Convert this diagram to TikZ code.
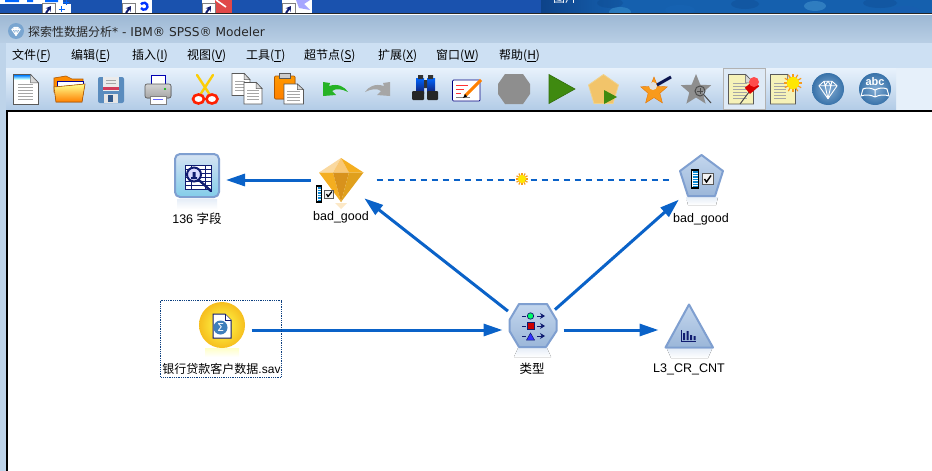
\documentclass[tikz,border=0pt]{standalone}
\usepackage{fontspec}
\setmainfont{Liberation Sans}
\newfontfamily\cjk{Noto Sans CJK SC}
\newfontfamily\wide{DejaVu Sans}
\usetikzlibrary{arrows.meta,shapes.geometric}
\definecolor{flow}{HTML}{0A62C8}
\definecolor{edgeblue}{HTML}{7F9FD0}
\definecolor{fillblue}{HTML}{A3C0E4}
\definecolor{navy}{HTML}{101C70}
\definecolor{golddark}{HTML}{D8921C}
\definecolor{goldmid}{HTML}{F4AE20}
\definecolor{goldlight}{HTML}{FAD9A0}
\definecolor{goldcrown}{HTML}{F9C875}
\definecolor{desk}{HTML}{1A52AE}
\definecolor{deskright}{HTML}{1560AE}
\definecolor{deskdark}{HTML}{0B3F80}
\definecolor{grayicon}{HTML}{8E8E8E}
\definecolor{playgreen}{HTML}{3F8A10}
\definecolor{notey}{HTML}{F6F2B8}
\definecolor{orangeicon}{HTML}{F89A1C}
\definecolor{orbblue}{HTML}{3F7FBC}
\definecolor{titletop}{HTML}{9DB8D4}
\definecolor{titlebot}{HTML}{B9CFE5}
\definecolor{frameblue}{HTML}{BED4EA}
\definecolor{menublue}{HTML}{CDE0F3}
\definecolor{tbtop}{HTML}{E8F2FC}
\definecolor{tbbot}{HTML}{B2CBE6}
\definecolor{tbrest}{HTML}{E6F0FA}
\definecolor{floppy}{HTML}{5A8CBE}
\definecolor{floppyred}{HTML}{D23C5A}
\definecolor{floppydark}{HTML}{325A8C}
\definecolor{pentgold}{HTML}{F2C46A}
\definecolor{pentedge}{HTML}{F0D28C}
\definecolor{pinbg}{HTML}{DEEAF6}
\definecolor{orbedge}{HTML}{F6BE1E}
\definecolor{redtile}{HTML}{E04848}
\tikzset{
  hub/.style={inner sep=0pt,minimum size=1pt,outer sep=0pt},
  nodelabel/.style={inner sep=0pt,font=\fontsize{12.5}{14}\selectfont,text=black},
  menulabel/.style={inner sep=0pt,anchor=west,font=\fontsize{12}{14}\selectfont\cjk,text=black},
  flowline/.style={draw=flow,line width=3pt,-{Triangle[length=19pt,width=12pt]}},
  flowdash/.style={draw=flow,line width=2pt,dash pattern=on 6pt off 5pt},
  iconshape/.style={draw=edgeblue,line width=2pt,line join=round,top color=fillblue!65!white,bottom color=fillblue!95!black},
  reflect/.style={top color=fillblue!28!white,bottom color=white,draw=none},
}
\newcommand{\docsheet}[5]{%
  \fill[#5,draw=gray!70!black,line width=.8pt] (#1,#2) -- ++(#3*0.68,0) -- ++(#3*0.32,#4*0.28) -- ++(0,#4*0.72) -- ++(-#3,0) -- cycle;
  \fill[gray!30,draw=gray!70!black,line width=.5pt] (#1,#2) ++(#3*0.68,0) -- ++(0,#4*0.28) -- ++(#3*0.32,0) -- cycle;
}
\newcommand{\gemglyph}[3]{%
  \begin{scope}[shift={(#1,#2)},x=#3pt,y=-#3pt,draw=white,line width=.9pt,line join=round]
    \draw (-.7,-.25) -- (-.3,-.6) -- (.3,-.6) -- (.7,-.25) -- (0,.75) -- cycle;
    \draw (-.7,-.25) -- (.7,-.25) (-.3,-.6) -- (-.22,-.25) -- (0,.75) -- (.22,-.25) -- (.3,-.6) (-.22,-.25) -- (0,-.6) -- (.22,-.25);
  \end{scope}
}
\newcommand{\starshape}[3]{%
  (#1,#2-#3) -- (#1+.27*#3,#2-.33*#3) -- (#1+.95*#3,#2-.3*#3) -- (#1+.42*#3,#2+.16*#3) -- (#1+.6*#3,#2+.85*#3) -- (#1,#2+.47*#3) -- (#1-.6*#3,#2+.85*#3) -- (#1-.42*#3,#2+.16*#3) -- (#1-.95*#3,#2-.3*#3) -- (#1-.27*#3,#2-.33*#3) -- cycle
}
\newcommand{\tlines}[4]{%
  \foreach \i in {1,...,#4} \draw[gray!70,line width=.7pt] (#1,#2+\i*3) -- ++(#3,0);
}
\newcommand{\sunburst}[3]{%
  \foreach \a in {0,30,...,330} \draw[orangeicon,line width=1.2pt] (#1,#2) ++(\a:#3*.6) -- ++(\a:#3*.45);
  \fill[yellow!90!orange] (#1,#2) circle (#3*.68);
}
\begin{document}
\begin{tikzpicture}[x=1pt,y=-1pt]
\useasboundingbox (0,0) rectangle (932,471);
% ---------- desktop strip
\fill[desk] (0,0) rectangle (541,14);
\fill[left color=deskdark!80!desk,right color=deskright] (541,0) rectangle (620,14);
\fill[deskright] (620,0) rectangle (932,14);
\begin{scope}
  \clip (541,0) rectangle (932,13);
  \foreach \x/\y/\w/\c in {620/12/22/cyan!60!white,680/10/30/cyan!45!blue,745/4/28/deskdark,815/6/22/cyan!50!white,880/3/34/deskdark,610/3/26/deskdark,905/11/30/cyan!35!blue}
    \fill[\c,opacity=.25] (\x,\y) ellipse ({\w/2} and 5);
  \node[hub,anchor=west,text=white,font=\fontsize{12}{14}\selectfont\cjk] (clipped) at (553,-2) {图片};
\end{scope}
\fill[white] (0,0) rectangle (63,4);
\fill[white] (42,4) rectangle (71,13);
\fill[white] (122,0) rectangle (152,13);
\fill[white] (202,0) rectangle (232,13);
\fill[white] (282,0) rectangle (312,13);
\fill[blue!60!cyan] (5,0) rectangle (19,2) (27,0) rectangle (33,2) (45,0) rectangle (58,2);
\draw[blue!60!cyan,line width=1pt] (66,0) -- (66,5) (63,2) -- (69,2) (61.5,6) -- (61.5,12) (58.5,9) -- (64.5,9);
\draw[blue!80!cyan,line width=2.4pt] (141,8) arc (150:-150:3.5);
\fill[redtile] (215,0) rectangle (232,13);
\draw[white,line width=1.6pt] (216,0) -- (226,7);
\fill[blue!35!white] (296,0) -- (310,0) -- (304,4) -- (310,10) -- (299,8) -- cycle;
\foreach \x in {42,122,202,282} {
  \fill[white,draw=gray,line width=.8pt] (\x+.5,3.5) rectangle ++(13,10);
  \draw[navy,line width=2pt,-{Stealth[length=5pt,width=6pt]}] (\x+4,13) -- ++(5,-7);
}
% ---------- window
\fill[black!85] (0,13) rectangle (932,14);
\fill[white] (0,14) rectangle (932,15);
\fill[top color=titletop,bottom color=titlebot] (0,15) rectangle (932,43);
\fill[frameblue] (0,43) rectangle (6,471);
\fill[menublue] (6,43) rectangle (932,68);
\fill[tbrest] (6,68) rectangle (932,110);
\fill[top color=tbtop,bottom color=tbbot] (6,68) rectangle (896,110);
% canvas
\fill[white] (7,112) rectangle (932,471);
\draw[black,line width=2pt] (6.5,471) -- (6.5,111) -- (932,111);
% ---------- title bar
\fill[orbblue!70!white] (16,31) circle (8);
\gemglyph{16}{31}{6}
\node[inner sep=0pt,anchor=west,text=black!85,font=\fontsize{12}{14}\selectfont\cjk] (title) at (28,32) {探索性数据分析{\wide\fontsize{12.2}{14}\selectfont * - IBM® SPSS® Modeler}};
% ---------- menu
\node[menulabel] (m1) at (12,56) {文件(\underline{F})};
\node[menulabel] (m2) at (71,56) {编辑(\underline{E})};
\node[menulabel] (m3) at (132,56) {插入(\underline{I})};
\node[menulabel] (m4) at (187,56) {视图(\underline{V})};
\node[menulabel] (m5) at (246,56) {工具(\underline{T})};
\node[menulabel] (m6) at (304,56) {超节点(\underline{S})};
\node[menulabel] (m7) at (378,56) {扩展(\underline{X})};
\node[menulabel] (m8) at (436,56) {窗口(\underline{W})};
\node[menulabel] (m9) at (499,56) {帮助(\underline{H})};
% ---------- toolbar
% new
\docsheet{13.5}{74.5}{25}{30}{white}
\fill[top color=blue!50!cyan,bottom color=cyan!20] (14,75) rectangle (30,79);
\tlines{18}{81}{15}{6}
% open
\fill[orange!90!yellow,draw=orange!70!black,line width=.6pt] (54,78) -- (66,76) -- (72,79) -- (83,79) -- (83,92) -- (54,92) -- cycle;
\fill[white,draw=blue!60!black,line width=.6pt] (57,81) rectangle (83,87);
\fill[top color=yellow!45!white,bottom color=orange,draw=orange!70!black,line width=.6pt] (54,87) -- (85,84) -- (82,102) -- (56,102) -- cycle;
% save
\fill[floppy,rounded corners=2pt] (98,77) rectangle (124,103);
\fill[white!92!black] (103,77) rectangle (119,91);
\fill[floppyred] (103,87) rectangle (119,89.5);
\draw[gray!70,line width=.7pt] (106,80) -- (116,80) (106,83) -- (116,83);
\fill[white!90!black] (104,94) rectangle (118,103);
\fill[floppydark] (108,95) rectangle (113,102);
% print
\fill[white,draw=blue!70!black,line width=1pt] (151,75) rectangle (165,85);
\fill[top color=gray!35,bottom color=gray!70,draw=gray!70!black,line width=.6pt,rounded corners=2pt] (145,84) rectangle (171,98);
\fill[green!70!black] (165,89) circle (1.2);
\fill[white,draw=gray,line width=.6pt] (150,96) rectangle (166,104);
\draw[blue!60,line width=.7pt] (153,99) -- (163,99);
% scissors
\draw[yellow!65!orange,line width=2.4pt,line cap=round] (197,75) -- (210,95) (213,75) -- (200,95);
\draw[red!75!orange,line width=2.6pt,fill=white] (198.5,99) ellipse (5.5 and 4.5) (212,99) ellipse (5.5 and 4.5);
% copy
\docsheet{232}{73.5}{18}{22}{white}
\tlines{235}{78}{10}{4}
\docsheet{244}{82.5}{18}{21.5}{white}
\tlines{247}{87}{12}{4}
% paste
\fill[top color=orange!80!yellow,bottom color=orange,draw=orange!70!black,line width=.7pt,rounded corners=1pt] (274.5,76) rectangle (295,99);
\fill[gray!40,draw=gray!70!black,line width=.5pt] (279,73.5) rectangle (290,78);
\docsheet{284}{84}{19.5}{20}{white}
\tlines{287}{88}{13}{4}
% undo/redo
\fill[green!65!black!85!white] (323,82) -- (330,83) -- (329,86) .. controls (338,83) and (345,87) .. (348,92) .. controls (342,89) and (336,88) .. (332,91) -- (336,95) -- (323,96) -- cycle;
\fill[gray!70] (390,82) -- (383,83) -- (384,86) .. controls (375,83) and (368,87) .. (365,92) .. controls (371,89) and (377,88) .. (381,91) -- (377,95) -- (390,96) -- cycle;
% binoculars
\fill[top color=blue!60!cyan,bottom color=navy] (416,78) rectangle (424,93);
\fill[top color=blue!60!cyan,bottom color=navy] (427,78) rectangle (435,93);
\fill[black!80] (418,75) rectangle (423,79) (428,75) rectangle (433,79) (424,80) rectangle (427,88);
\fill[black!85,rounded corners=1pt] (412,91) rectangle (424,100) (427,91) rectangle (438,100);
% edit
\fill[white,draw=blue!50!black,line width=.7pt,rounded corners=1pt] (452.5,80) rectangle (480,101);
\draw[red!80,line width=.8pt] (456,85) -- (468,85) (456,89) -- (464,89) (456,93) -- (461,93);
\draw[gray,line width=.7pt] (456,97) -- (470,97);
\draw[orange,line width=3pt] (465,96) -- (481,80);
\fill[black] (463,98) -- (465,94) -- (467,96.5) -- cycle;
% stop hexagon
\fill[grayicon] (505,74) -- (523,74) -- (530,84) -- (530,94) -- (523,104) -- (505,104) -- (498,94) -- (498,84) -- cycle;
% play
\fill[playgreen,draw=playgreen!80!black,line width=.6pt] (549,74.5) -- (575,89) -- (549,103.5) -- cycle;
% pentagon play
\fill[pentgold,draw=pentedge,line width=.8pt] (603.5,74.5) -- (618.5,85) -- (613,103.5) -- (594,103.5) -- (588.5,85) -- cycle;
\fill[playgreen] (604,90) -- (617,97) -- (604,104) -- cycle;
% star brush
\fill[orangeicon,draw=orange!90!black,line width=.4pt] \starshape{654}{91}{14};
\fill[gray!25] (653,86) circle (4);
\draw[navy!70!black,line width=3pt] (657,85) -- (671,77);
% gray star
\fill[grayicon] \starshape{696}{90}{16};
\draw[gray!60!black,line width=1pt] (700,91) circle (5) (704,95) -- (711,103);
\draw[gray!60!black,line width=.7pt] (697,91) -- (703,91) (700,88) -- (700,94);
% pin note
\fill[pinbg,draw=gray!60,line width=.7pt] (723.5,68.5) rectangle (765,109.5);
\docsheet{728.5}{74.5}{25}{29.5}{notey}
\tlines{733}{80}{14}{6}
\draw[gray!60!black,line width=1pt] (740,104) -- (749,92);
\fill[red!85!black,rotate around={40:(752,87)}] (746,83) rectangle (758,91);
\fill[red!70!white] (754,82) circle (5);
% note sun
\docsheet{770.5}{74.5}{25}{29.5}{notey}
\tlines{774}{80}{12}{6}
\sunburst{793}{83}{9}
% gem orb
\shade[inner color=orbblue!65!white,outer color=orbblue!90!black] (828,89) circle (16);
\gemglyph{828}{89}{13}
% abc orb
\shade[inner color=orbblue!65!white,outer color=orbblue!90!black] (875,89) circle (16);
\node[inner sep=0pt,text=white,font=\fontsize{11}{12}\selectfont\bfseries] (abc) at (875,82) {abc};
\draw[white,line width=1pt,line join=round] (875,90) .. controls (870,87) and (865,88) .. (863,89) -- (861,96) .. controls (866,94) and (871,95) .. (875,97) .. controls (879,95) and (884,94) .. (889,96) -- (887,89) .. controls (885,88) and (880,87) .. (875,90) -- (875,97);
% ---------- stream nodes
\node[hub] (table) at (197,180) {};
\node[hub] (nugget) at (341,180) {};
\node[hub] (source) at (222,330) {};
\node[hub] (typenode) at (532,330) {};
\node[hub] (graph) at (688,330) {};
\node[hub] (model) at (701,180) {};
\node[hub] (star) at (522,179) {};
% connectors
\draw[flowline,shorten <=30pt,shorten >=28.5pt] (nugget) -- (table);
\draw[flowline,shorten <=29pt,shorten >=29pt] (source) -- (typenode);
\draw[flowline,shorten <=31pt,shorten >=29pt] (typenode) -- (graph);
\draw[flowline,shorten <=30pt,shorten >=29pt] (typenode) -- (nugget);
\draw[flowline,shorten <=30pt,shorten >=29pt] (typenode) -- (model);
\draw[flowdash,shorten <=35pt,shorten >=30pt] (nugget) -- (model);
% dash star
\sunburst{522}{179}{6}
% table icon
\fill[reflect] (177,199) rectangle (217,209);
\fill[iconshape,rounded corners=5pt,top color=fillblue!45!white,bottom color=fillblue!80!cyan] (175,154) rectangle (219,197);
\fill[white,draw=navy,line width=1pt] (185,165) rectangle (211,189);
\foreach \yy in {169,173,177,181,185} \draw[navy,line width=.8pt] (185,\yy) -- (211,\yy);
\foreach \xx in {191,205} \draw[navy,line width=.8pt] (\xx,165) -- (\xx,189);
\draw[navy,line width=2.4pt,line cap=round] (200,181) -- (211,191);
\fill[white!85!blue,draw=navy,line width=2pt] (194,174.5) circle (7);
\fill[navy] (191,177) rectangle (197,179) (192.5,172) rectangle (195.5,177);
% diamond
\fill[goldlight!60!white] (335,203) -- (347,203) -- (341,209) -- cycle;
\fill[goldlight] (319,172.5) -- (341,158) -- (333,172.5) -- cycle;
\fill[goldcrown] (341,158) -- (349,172.5) -- (333,172.5) -- cycle;
\fill[goldmid] (341,158) -- (363.5,172.5) -- (349,172.5) -- cycle;
\fill[goldmid] (319,172.5) -- (333,172.5) -- (341,202) -- cycle;
\fill[golddark] (333,172.5) -- (349,172.5) -- (341,202) -- cycle;
\fill[goldmid!92!black] (349,172.5) -- (363.5,172.5) -- (341,202) -- cycle;
\fill[white,draw=black,line width=1.2pt] (316.5,186) rectangle (321.5,202);
\foreach \yy in {188,190.5,193,195.5,198,200.5} \draw[cyan!70!blue,line width=1.2pt] (317.5,\yy) -- (320.5,\yy);
\fill[gray!10,draw=gray!70!black,line width=.8pt] (324.5,190) rectangle (333.5,198);
\draw[black,line width=1.2pt] (326.5,194) -- (328,196.5) -- (332,191.5);
% source orb
\fill[top color=yellow!22!white,bottom color=white] (205,348) rectangle (239,357);
\shade[inner color=yellow!70!white,outer color=orbedge] (222,325) circle (23);
\fill[white,draw=navy,line width=1pt] (213,314) -- (225,314) -- (231,320) -- (231,338) -- (213,338) -- cycle;
\draw[navy,line width=.8pt,fill=white] (225,314) -- (225,320) -- (231,320);
\fill[orbblue] (220.5,327.5) circle (7);
\node[inner sep=0pt,text=white,font=\fontsize{11}{12}\selectfont\wide] (sigma) at (220.5,327) {Σ};
% selection
\draw[deskdark,line width=.8pt,densely dotted] (160.5,300.5) rectangle (281.5,377);
% type hexagon
\fill[reflect] (518,348) -- (547,348) -- (551,357) -- (514,357) -- cycle;
\fill[iconshape] (519,304) -- (547,304) -- (556.5,320) -- (556.5,331) -- (546,347) -- (519,347) -- (509.5,331) -- (509.5,320) -- cycle;
\foreach \yy in {316,326,336} {
  \draw[navy,line width=1pt] (522,\yy) -- (526,\yy);
  \draw[navy,line width=1pt,-{Stealth[length=5pt,width=6pt]}] (537,\yy) -- (545,\yy);
}
\fill[green!60!cyan,draw=navy,line width=.7pt] (530.5,316) circle (3.2);
\fill[red!80!black,draw=navy,line width=.5pt] (527,322.5) rectangle (534,329.5);
\fill[blue!80,draw=navy,line width=.5pt] (526.5,340) -- (530.5,333) -- (534.5,340) -- cycle;
% triangle
\fill[reflect] (667,349) -- (712,349) -- (708,358) -- (671,358) -- cycle;
\fill[iconshape] (689,304.5) -- (713,347.5) -- (665.5,347.5) -- cycle;
\draw[navy,line width=1pt] (681,330) -- (681,341) -- (696,341);
\fill[navy] (683,333) rectangle (685,340) (686.5,331) rectangle (688.5,340) (690,335) rectangle (692,340) (693.5,336) rectangle (695.5,340);
% pentagon
\fill[reflect] (686,197) -- (718,197) -- (716,205) -- (688,205) -- cycle;
\fill[iconshape] (701.5,155) -- (723,171) -- (715,196) -- (688,196) -- (680,171) -- cycle;
\fill[white,draw=black,line width=1.2pt] (691.5,170) rectangle (698.5,188);
\foreach \yy in {172,174.5,177,179.5,182,184.5,186.5} \draw[cyan!70!blue,line width=1.2pt] (692.5,\yy) -- (697.5,\yy);
\fill[gray!10,draw=gray!70!black,line width=.8pt] (702,173.5) rectangle (713,184);
\draw[black,line width=1.4pt] (704.5,179) -- (706.5,182) -- (711,175.5);
% ---------- labels
\node[nodelabel] (lab1) at (197,218.5) {136 {\cjk 字段}};
\node[nodelabel] (lab2) at (341,217) {bad\_good};
\node[nodelabel,font=\fontsize{12}{14}\selectfont] (lab3) at (221.5,368.5) {{\cjk 银行贷款客户数据}.sav};
\node[nodelabel] (lab4) at (532,368.5) {\cjk 类型};
\node[nodelabel] (lab5) at (689,369) {L3\_CR\_CNT};
\node[nodelabel] (lab6) at (701,219) {bad\_good};
\end{tikzpicture}
\end{document}
